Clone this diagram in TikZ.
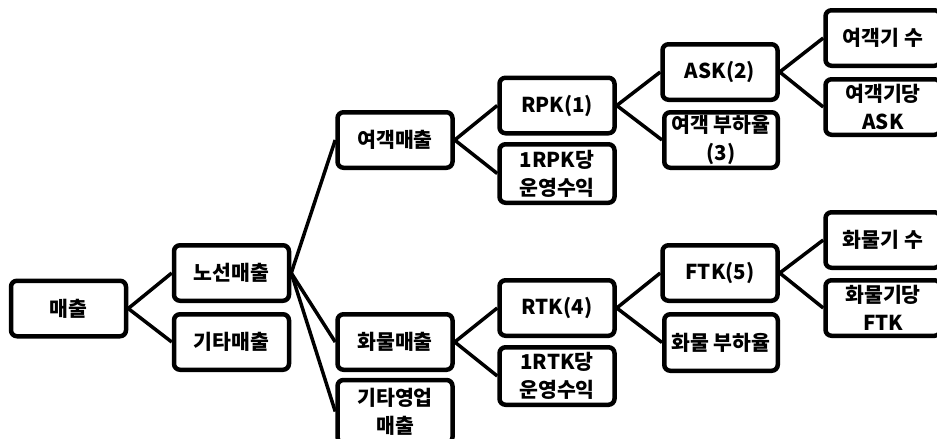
\documentclass[tikz,border=0pt]{standalone}
\usepackage{fontspec}
\setmainfont{Noto Sans CJK KR}
\begin{document}
\begin{tikzpicture}[x=1pt,y=-1pt,
  box/.style={draw=black, line width=4.5pt, rounded corners=6pt, fill=white,
    inner sep=0pt, minimum width=115pt, minimum height=55.5pt, align=center,
    font=\fontsize{20.5}{28}\selectfont\bfseries},
  link/.style={line width=3.5pt, draw=black}]
\clip (0,0) rectangle (937,439);
\useasboundingbox (0,0) rectangle (937,439);
\fill[white] (0,0) rectangle (937,439);
% level 0-1
\node[box] (maechul) at (68.5,308.5) {매출};
\node[box] (noseon) at (231.5,273) {노선매출};
\node[box] (gita) at (231.5,342) {기타매출};
% level 2
\node[box] (yeogaek) at (395,140) {여객매출};
\node[box] (hwamul) at (395,342) {화물매출};
\node[box, minimum height=63pt] (gitayeong) at (395,411.5) {기타영업\\매출};
% level 3
\node[box] (rpk) at (557,105.5) {RPK(1)};
\node[box, minimum height=58.5pt] (rpkdang) at (557,173.5) {1RPK당\\운영수익};
\node[box] (rtk) at (557,308) {RTK(4)};
\node[box, minimum height=57.5pt] (rtkdang) at (557,376) {1RTK당\\운영수익};
% level 4
\node[box] (ask) at (720,72) {ASK(2)};
\node[box, minimum width=113.5pt] (ybuha) at (721,140) {여객 부하율\\(3)};
\node[box] (ftk) at (720,273) {FTK(5)};
\node[box, minimum width=113.5pt, minimum height=56.5pt] (hbuha) at (721,342.5) {화물 부하율};
% level 5
\node[box] (ygisu) at (883,38) {여객기 수};
\node[box] (ygidang) at (883,107) {여객기당\\ASK};
\node[box] (hgisu) at (883,240) {화물기 수};
\node[box] (hgidang) at (883,308) {화물기당\\FTK};
% connectors
\draw[link] (maechul.east) -- (noseon.west);
\draw[link] (maechul.east) -- (gita.west);
\draw[link] (noseon.east) -- (yeogaek.west);
\draw[link] (noseon.east) -- (hwamul.west);
\draw[link] (noseon.east) -- (gitayeong.west);
\draw[link] (yeogaek.east) -- (rpk.west);
\draw[link] (yeogaek.east) -- (rpkdang.west);
\draw[link] (hwamul.east) -- (rtk.west);
\draw[link] (hwamul.east) -- (rtkdang.west);
\draw[link] (rpk.east) -- (ask.west);
\draw[link] (rpk.east) -- (ybuha.west);
\draw[link] (rtk.east) -- (ftk.west);
\draw[link] (rtk.east) -- (hbuha.west);
\draw[link] (ask.east) -- (ygisu.west);
\draw[link] (ask.east) -- (ygidang.west);
\draw[link] (ftk.east) -- (hgisu.west);
\draw[link] (ftk.east) -- (hgidang.west);
\end{tikzpicture}
\end{document}
